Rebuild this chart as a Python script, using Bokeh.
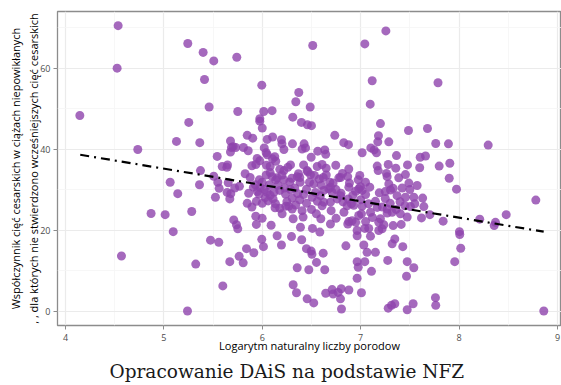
from bokeh.plotting import figure
from bokeh.models import FixedTicker, Range1d, Title
from bokeh.embed import file_html
from bokeh.resources import INLINE

# log(number of births) per hospital
log_births = [
    4.146, 4.535, 4.525, 4.735, 4.569, 4.87, 5.013, 5.095, 5.064, 5.141, 5.128, 5.243, 5.253, 5.283, 5.24,
    5.324, 5.362, 5.365, 5.372, 5.399, 5.413, 5.46, 5.474, 5.507, 5.507, 5.524, 5.542, 5.548, 5.558, 5.562,
    5.593, 5.599, 5.64, 5.647, 5.654, 5.643, 5.68, 5.67, 5.67, 5.677, 5.677, 5.687,
    5.704, 5.73, 5.71, 5.738, 5.751, 5.72, 5.741, 5.751, 5.765, 5.768, 5.806, 5.809, 5.826, 5.84, 5.847,
    5.847, 5.857, 5.862, 5.877, 5.895, 5.895, 5.935, 5.903, 5.91, 5.914, 5.934, 5.94, 5.94, 5.93, 5.948,
    5.975, 5.968, 5.97, 5.975, 5.975, 5.995, 5.995,
    5.999, 5.999, 6.0, 6.02, 6.04, 6.012, 6.015, 6.043, 6.05, 6.05, 6.073, 6.08, 6.09, 6.1, 6.105, 6.1,
    6.104, 6.127, 6.137, 6.137, 6.11, 6.151, 6.151, 6.178, 6.178, 6.178, 6.134, 6.195, 6.2, 6.22, 6.195,
    6.202, 6.219, 6.22, 6.226, 6.236, 6.26, 6.27, 6.287, 6.287, 6.297, 6.304, 6.304, 6.307, 6.31, 6.314,
    6.314, 6.341, 6.348, 6.355, 6.355, 6.368, 6.371, 6.381, 6.385, 6.388, 6.398, 6.401, 6.405, 6.425, 6.44,
    6.405, 6.415, 6.42, 6.449, 6.456, 6.456, 6.459, 6.462, 6.473, 6.487, 6.49, 6.497, 6.497, 6.505,
    6.5, 6.507, 6.51, 6.513, 6.523, 6.523, 6.541, 6.551, 6.558, 6.564, 6.585, 6.591, 6.595, 6.608, 6.608,
    6.625, 6.625, 6.619, 6.635, 6.635, 6.645, 6.645, 6.649, 6.676, 6.686, 6.693, 6.693, 6.693, 6.71, 6.71,
    6.72, 6.737, 6.747, 6.761, 6.771, 6.778, 6.795, 6.795, 6.802, 6.795, 6.805, 6.815, 6.828, 6.83, 6.85,
    6.862, 6.868, 6.869, 6.873, 6.876, 6.88, 6.879, 6.88, 6.88, 6.886, 6.906, 6.913, 6.949, 6.964, 6.964,
    6.964, 6.975, 6.964, 6.975, 6.981, 6.991, 6.998,
    7.008, 7.008, 7.015, 7.015, 7.015, 7.032, 7.042, 7.042, 7.042, 7.049, 7.065, 7.082, 7.093, 7.097, 7.1,
    7.1, 7.103, 7.11, 7.117, 7.137, 7.15, 7.161, 7.168, 7.168, 7.174, 7.178, 7.181, 7.189, 7.184, 7.184,
    7.201, 7.201, 7.218, 7.235, 7.256, 7.262, 7.269, 7.269, 7.269, 7.275, 7.28, 7.28, 7.286, 7.286, 7.303,
    7.313, 7.33, 7.32, 7.32, 7.33, 7.347, 7.347, 7.357, 7.364, 7.37, 7.387, 7.404, 7.412, 7.422, 7.428,
    7.455, 7.455, 7.466, 7.473, 7.473, 7.473, 7.476, 7.486, 7.49,
    7.506, 7.533, 7.54, 7.54, 7.574, 7.6, 7.605, 7.618, 7.63, 7.642, 7.659, 7.679, 7.703, 7.76, 7.763,
    7.763, 7.786, 7.798, 7.838, 7.892, 7.9, 7.906, 7.956, 7.974, 8.004, 8.007, 8.017, 8.21, 8.296, 8.357,
    8.37, 8.479, 8.78, 8.861,
    6.02, 6.05, 6.08, 6.03, 6.06, 6.0, 6.13, 6.04, 6.2, 6.28, 6.33, 6.36, 6.38, 6.42, 6.45, 6.48, 6.34,
    6.45, 6.5, 6.56, 6.6, 6.58, 6.65, 6.72, 6.75, 6.8, 6.82, 6.92, 6.95, 6.93, 7.0, 7.05, 7.08, 7.15,
    7.22, 7.25, 7.3, 7.36, 7.12, 7.05, 6.98, 7.25, 7.4, 7.45, 7.5, 7.55, 6.12, 6.16, 6.25, 6.24, 6.55,
    6.7, 6.75, 6.62, 6.53, 6.08, 5.98, 5.95, 6.3,
]

# caesarean section rate (%)
cs_rate = [
    48.3, 70.5, 60.0, 39.9, 13.6, 24.1, 23.8, 19.6, 31.8, 29.0, 41.9, 66.1, 46.6, 24.6, 0.0,
    11.6, 31.2, 41.6, 34.7, 63.9, 57.2, 50.4, 17.5, 61.8, 33.3, 28.1, 38.2, 31.8, 17.0, 30.3,
    35.7, 6.2, 35.5, 36.1, 31.7, 29.3, 29.0, 27.7, 12.2, 42.0, 39.3, 40.4,
    40.6, 40.4, 22.5, 21.3, 20.3, 30.4, 62.7, 49.3, 13.5, 30.8, 11.9, 40.4, 33.9, 15.4, 43.4,
    26.6, 39.6, 29.1, 33.0, 25.7, 35.9, 36.2, 42.7, 30.6, 14.4, 23.4, 21.4, 27.1, 31.2, 37.7,
    37.1, 28.9, 32.4, 47.5, 46.9, 55.8, 17.7,
    22.9, 31.8, 45.2, 40.3, 39.1, 15.9, 49.3, 36.0, 42.4, 38.6, 31.2, 35.7, 21.2, 49.5, 43.0, 33.2,
    37.6, 38.1, 37.0, 32.4, 27.7, 32.9, 18.6, 35.0, 29.8, 25.4, 26.5, 42.3, 41.3, 39.9, 16.3,
    24.0, 32.4, 34.7, 30.4, 28.9, 35.5, 25.9, 36.1, 30.0, 18.4, 27.9, 25.2, 41.3, 47.9, 22.8,
    6.5, 51.7, 4.5, 33.2, 10.7, 33.9, 54.0, 33.0, 31.8, 20.7, 46.6, 17.6, 40.0, 41.3, 40.3,
    24.8, 23.2, 36.1, 15.4, 34.7, 3.0, 46.0, 34.4, 10.2, 50.4, 33.7, 38.0, 14.8, 14.0,
    45.8, 28.1, 20.4, 65.6, 31.4, 2.0, 29.3, 12.0, 35.7, 39.5, 19.5, 28.5, 22.8, 36.2, 26.0,
    29.8, 26.9, 14.3, 39.8, 10.2, 38.7, 4.4, 35.3, 30.2, 31.8, 30.6, 26.9, 21.5, 29.3, 5.3,
    4.2, 43.4, 36.0, 27.7, 4.6, 32.9, 33.0, 28.5, 5.5, 3.0, 0.5, 34.0, 41.6, 24.4, 16.1,
    26.0, 33.2, 21.5, 27.7, 41.1, 5.2, 35.1, 30.6, 22.1, 31.6, 26.5, 22.3, 21.9, 19.9, 18.6,
    12.2, 10.8, 8.1, 32.4, 30.2, 33.5, 30.7,
    4.5, 24.0, 39.1, 25.9, 29.8, 16.3, 66.0, 12.2, 20.4, 31.8, 14.5, 20.4, 30.6, 51.1, 24.4,
    18.5, 40.3, 9.8, 56.9, 39.8, 14.5, 39.1, 35.8, 25.6, 41.8, 34.7, 43.3, 29.2, 21.9, 19.9,
    46.3, 22.8, 20.3, 21.3, 69.2, 34.0, 33.2, 25.2, 24.2, 12.5, 36.2, 0.7, 41.8, 31.4, 29.9,
    1.4, 30.3, 24.4, 16.6, 21.1, 17.8, 1.8, 35.3, 38.4, 28.5, 32.9, 24.0, 21.4, 30.4, 15.9,
    33.7, 28.1, 8.6, 23.2, 12.2, 0.3, 36.1, 44.6, 31.6,
    25.8, 1.8, 28.1, 10.7, 31.0, 35.4, 38.0, 23.0, 27.9, 25.8, 38.3, 45.1, 23.8, 3.3, 41.4,
    1.4, 56.4, 35.8, 22.2, 41.3, 32.8, 36.5, 12.2, 30.1, 19.6, 18.9, 15.5, 22.7, 41.0, 21.1,
    21.9, 23.8, 27.4, 0.0,
    30.0, 29.3, 28.6, 28.0, 27.2, 26.6, 25.5, 33.6, 33.6, 31.9, 30.4, 29.0, 27.5, 28.8, 30.1, 31.8, 26.2,
    26.6, 25.1, 27.1, 31.1, 32.6, 33.6, 31.6, 30.0, 29.1, 27.0, 28.6, 29.6, 26.1, 27.5, 28.8, 26.5, 27.1,
    25.7, 27.8, 26.6, 25.1, 23.1, 22.1, 23.6, 29.5, 27.0, 26.0, 30.0, 26.5, 29.4, 31.1, 27.0, 25.9, 24.0,
    24.8, 22.9, 33.0, 33.5, 34.2, 30.5, 29.5, 32.8,
]

# fitted regression line (end points)
fit_x = [4.15, 8.86]
fit_y = [38.6, 19.6]

x_ticks = [4, 5, 6, 7, 8, 9]
x_minor = [3.5, 4.5, 5.5, 6.5, 7.5, 8.5, 9.5]
y_ticks = [0, 20, 40, 60]
y_minor = [-10, 10, 30, 50, 70]

x_title = "Logarytm naturalny liczby porodow"
y_title = ("Współczynnik cięć cesarskich w ciążach niepowikłanych\n"
           ", , dla których nie stwierdzono wcześniejszych cięć cesarskich")
caption = "Opracowanie DAiS na podstawie NFZ"

p = figure(width=561, height=385, output_backend="svg", toolbar_location=None,
           x_range=Range1d(3.919, 9.041), y_range=Range1d(-3.58, 74.0),
           min_border_left=57, min_border_right=0, min_border_top=11, min_border_bottom=60)

p.background_fill_color = "white"
p.border_fill_color = "white"
p.outline_line_color = "#8c8c8c"
p.outline_line_width = 1.3

p.xaxis.ticker = FixedTicker(ticks=x_ticks, minor_ticks=x_minor)
p.yaxis.ticker = FixedTicker(ticks=y_ticks, minor_ticks=y_minor)

for ax in (p.xaxis[0], p.yaxis[0]):
    ax.axis_line_color = None
    ax.major_tick_line_color = "#8c8c8c"
    ax.major_tick_line_width = 1
    ax.major_tick_in = 0
    ax.major_tick_out = 4
    ax.minor_tick_line_color = None
    ax.major_label_text_font = "Open Sans"
    ax.major_label_text_font_size = "9px"
    ax.major_label_text_color = "#4d4d4d"
    ax.major_label_standoff = 3
    ax.axis_label_text_font = "Open Sans"
    ax.axis_label_text_font_size = "11px"
    ax.axis_label_text_font_style = "normal"
    ax.axis_label_text_color = "black"

p.xaxis.axis_label = x_title
p.xaxis.major_label_standoff = 4
p.xaxis.axis_label_standoff = -6
p.yaxis.axis_label = y_title
p.yaxis.axis_label_standoff = -4

for g in (p.xgrid[0], p.ygrid[0]):
    g.grid_line_color = "#ebebeb"
    g.grid_line_width = 1.2
    g.minor_grid_line_color = "#f5f5f5"
    g.minor_grid_line_width = 0.8

p.scatter(log_births, cs_rate, size=9, fill_color="#8e44ad", fill_alpha=0.8, line_color=None)
p.line(fit_x, fit_y, line_color="black", line_width=2.2, line_dash="9 5 2 5")

p.add_layout(Title(text=caption, align="left", offset=52, standoff=6, text_font="DejaVu Serif",
                   text_font_size="18.5px", text_font_style="normal", text_color="#1a1a1a"), "below")

open("out.html", "w").write(file_html(p, INLINE))
